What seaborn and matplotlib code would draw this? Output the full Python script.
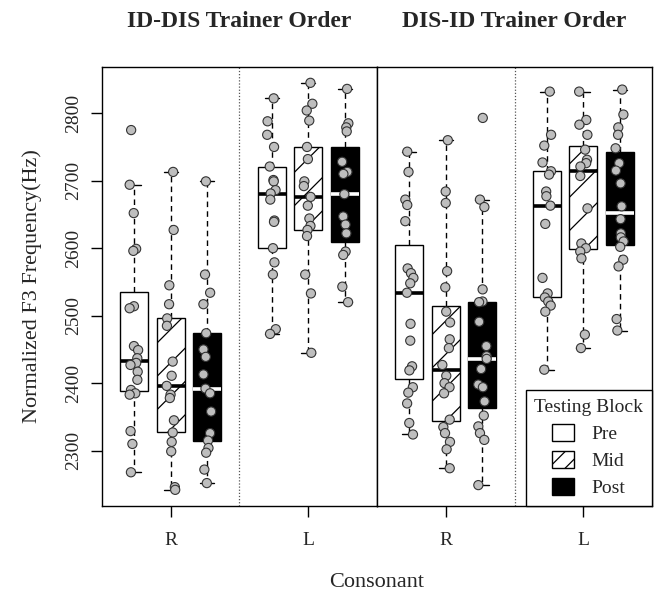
"""Normalized F3 by consonant, testing block and trainer order."""
import matplotlib
matplotlib.use("Agg")

import matplotlib.pyplot as plt
import numpy as np
import pandas as pd
import seaborn as sns
from matplotlib.patches import Patch

ORDERS = ["ID-DIS Trainer Order", "DIS-ID Trainer Order"]
CONSONANTS = ["R", "L"]
BLOCKS = ["Pre", "Mid", "Post"]
Y_TICKS = [2300, 2400, 2500, 2600, 2700, 2800]

# ID-DIS trainer order (Hz)
id_dis_r_pre = [2775, 2694, 2652, 2599, 2596, 2514, 2511, 2455, 2449, 2437,
                2430, 2427, 2417, 2405, 2390, 2385, 2383, 2329, 2310, 2268]
id_dis_r_mid = [2713, 2627, 2545, 2517, 2496, 2485, 2432, 2411, 2396, 2383,
                2378, 2345, 2327, 2313, 2299, 2246, 2242]
id_dis_r_post = [2699, 2561, 2534, 2517, 2474, 2450, 2439, 2413, 2392, 2385,
                 2358, 2326, 2315, 2304, 2297, 2272, 2252]
id_dis_l_pre = [2822, 2788, 2768, 2750, 2721, 2701, 2699, 2686, 2681, 2672,
                2641, 2639, 2600, 2579, 2561, 2480, 2473]
id_dis_l_mid = [2845, 2814, 2804, 2789, 2750, 2732, 2699, 2692, 2676, 2663,
                2644, 2633, 2627, 2618, 2561, 2533, 2445]
id_dis_l_post = [2836, 2785, 2779, 2773, 2728, 2713, 2710, 2680, 2647, 2635,
                 2622, 2595, 2590, 2543, 2520]

# DIS-ID trainer order (Hz)
dis_id_r_pre = [2743, 2713, 2672, 2664, 2640, 2570, 2563, 2556, 2548, 2534,
                2488, 2463, 2425, 2419, 2394, 2386, 2370, 2341, 2324]
dis_id_r_mid = [2760, 2684, 2667, 2566, 2542, 2506, 2490, 2465, 2452, 2427,
                2411, 2400, 2394, 2385, 2346, 2335, 2326, 2313, 2302, 2274]
dis_id_r_post = [2793, 2672, 2661, 2539, 2521, 2520, 2491, 2455, 2440, 2436,
                 2421, 2398, 2394, 2373, 2352, 2336, 2326, 2316, 2249]
dis_id_l_pre = [2832, 2768, 2752, 2727, 2714, 2709, 2684, 2677, 2663, 2636,
                2556, 2533, 2527, 2521, 2515, 2506, 2420]
dis_id_l_mid = [2832, 2790, 2783, 2768, 2746, 2731, 2726, 2721, 2707, 2659,
                2607, 2600, 2595, 2585, 2472, 2452]
dis_id_l_post = [2835, 2798, 2779, 2768, 2748, 2726, 2715, 2696, 2662, 2643,
                 2622, 2616, 2610, 2602, 2583, 2573, 2495, 2478]

GROUPS = [
    (ORDERS[0], "R", "Pre", id_dis_r_pre), (ORDERS[0], "R", "Mid", id_dis_r_mid),
    (ORDERS[0], "R", "Post", id_dis_r_post), (ORDERS[0], "L", "Pre", id_dis_l_pre),
    (ORDERS[0], "L", "Mid", id_dis_l_mid), (ORDERS[0], "L", "Post", id_dis_l_post),
    (ORDERS[1], "R", "Pre", dis_id_r_pre), (ORDERS[1], "R", "Mid", dis_id_r_mid),
    (ORDERS[1], "R", "Post", dis_id_r_post), (ORDERS[1], "L", "Pre", dis_id_l_pre),
    (ORDERS[1], "L", "Mid", dis_id_l_mid), (ORDERS[1], "L", "Post", dis_id_l_post),
]

df = pd.concat(
    [pd.DataFrame({"order": o, "consonant": c, "block": b, "f3": v})
     for o, c, b, v in GROUPS],
    ignore_index=True,
)

# fill, hatch and median colour for each testing block
BOX_LOOK = {
    "Pre": ("white", None, "black"),
    "Mid": ("white", "/", "black"),
    "Post": ("black", None, "white"),
}

sns.set_theme(style="white")
plt.rcParams["font.family"] = ["Liberation Serif", "DejaVu Serif"]
plt.rcParams["hatch.linewidth"] = 0.9

fig, axes = plt.subplots(1, 2, figsize=(6.61, 5.94), dpi=100, sharey=True)
fig.subplots_adjust(left=0.1543, right=0.9864, bottom=0.1481, top=0.8867, wspace=0)
np.random.seed(11)

for ax, order in zip(axes, ORDERS):
    sub = df[df["order"] == order]
    for block in BLOCKS:
        face, hatch, med = BOX_LOOK[block]
        sns.boxplot(
            data=sub[sub["block"] == block], x="consonant", y="f3",
            hue="block", order=CONSONANTS, hue_order=BLOCKS,
            palette={b: BOX_LOOK[b][0] for b in BLOCKS},
            width=0.8, gap=0.24, dodge=True, showfliers=False,
            linecolor="black", linewidth=1,
            boxprops={"hatch": hatch, "edgecolor": "black"},
            medianprops={"color": med, "linewidth": 2.6},
            whiskerprops={"linestyle": (0, (4, 3))},
            legend=False, ax=ax,
        )
    sns.stripplot(
        data=sub, x="consonant", y="f3", hue="block",
        order=CONSONANTS, hue_order=BLOCKS, dodge=True, jitter=0.1,
        palette={b: "#bebebe" for b in BLOCKS}, size=6.6,
        edgecolor="#333333", linewidth=0.8, legend=False, ax=ax, zorder=5,
    )
    ax.axvline(0.5, color="#555555", linestyle=(0, (1, 1.5)), linewidth=0.9)
    ax.set_title(order, fontsize=17, fontweight="bold", pad=29)
    ax.set_xlabel("")
    ax.set_ylabel("")
    ax.set_xlim(-0.5, 1.5)
    for spine in ax.spines.values():
        spine.set_color("black")
        spine.set_linewidth(1)
    ax.tick_params(axis="x", bottom=True, length=8, width=1, color="black",
                   labelsize=14, pad=11)

ax1, ax2 = axes
ax1.set_ylim(2218, 2868)
ax1.set_yticks(Y_TICKS)
ax1.tick_params(axis="y", left=True, length=8, width=1, color="black",
                labelsize=14, pad=6)
for lab in ax1.get_yticklabels():
    lab.set_rotation(90)
    lab.set_va("center")
ax2.tick_params(axis="y", left=False, labelleft=False)

fig.text(0.048, 0.518, "Normalized F3 Frequency(Hz)", rotation=90,
         ha="center", va="center", fontsize=16)
fig.text(0.5705, 0.019, "Consonant", ha="center", va="center", fontsize=16)

handles = [
    Patch(facecolor="white", edgecolor="black", label="Pre"),
    Patch(facecolor="white", edgecolor="black", hatch="//", label="Mid"),
    Patch(facecolor="black", edgecolor="black", label="Post"),
]
leg = ax2.legend(
    handles=handles, title="Testing Block", loc="lower right",
    borderaxespad=0, fancybox=False, framealpha=1, edgecolor="black",
    fontsize=14, title_fontsize=14, handlelength=1.1, handleheight=1.0,
    handletextpad=0.9, labelspacing=0.4, borderpad=0.45,
)
leg.get_frame().set_linewidth(1)

fig.savefig("out.png", dpi=100)
